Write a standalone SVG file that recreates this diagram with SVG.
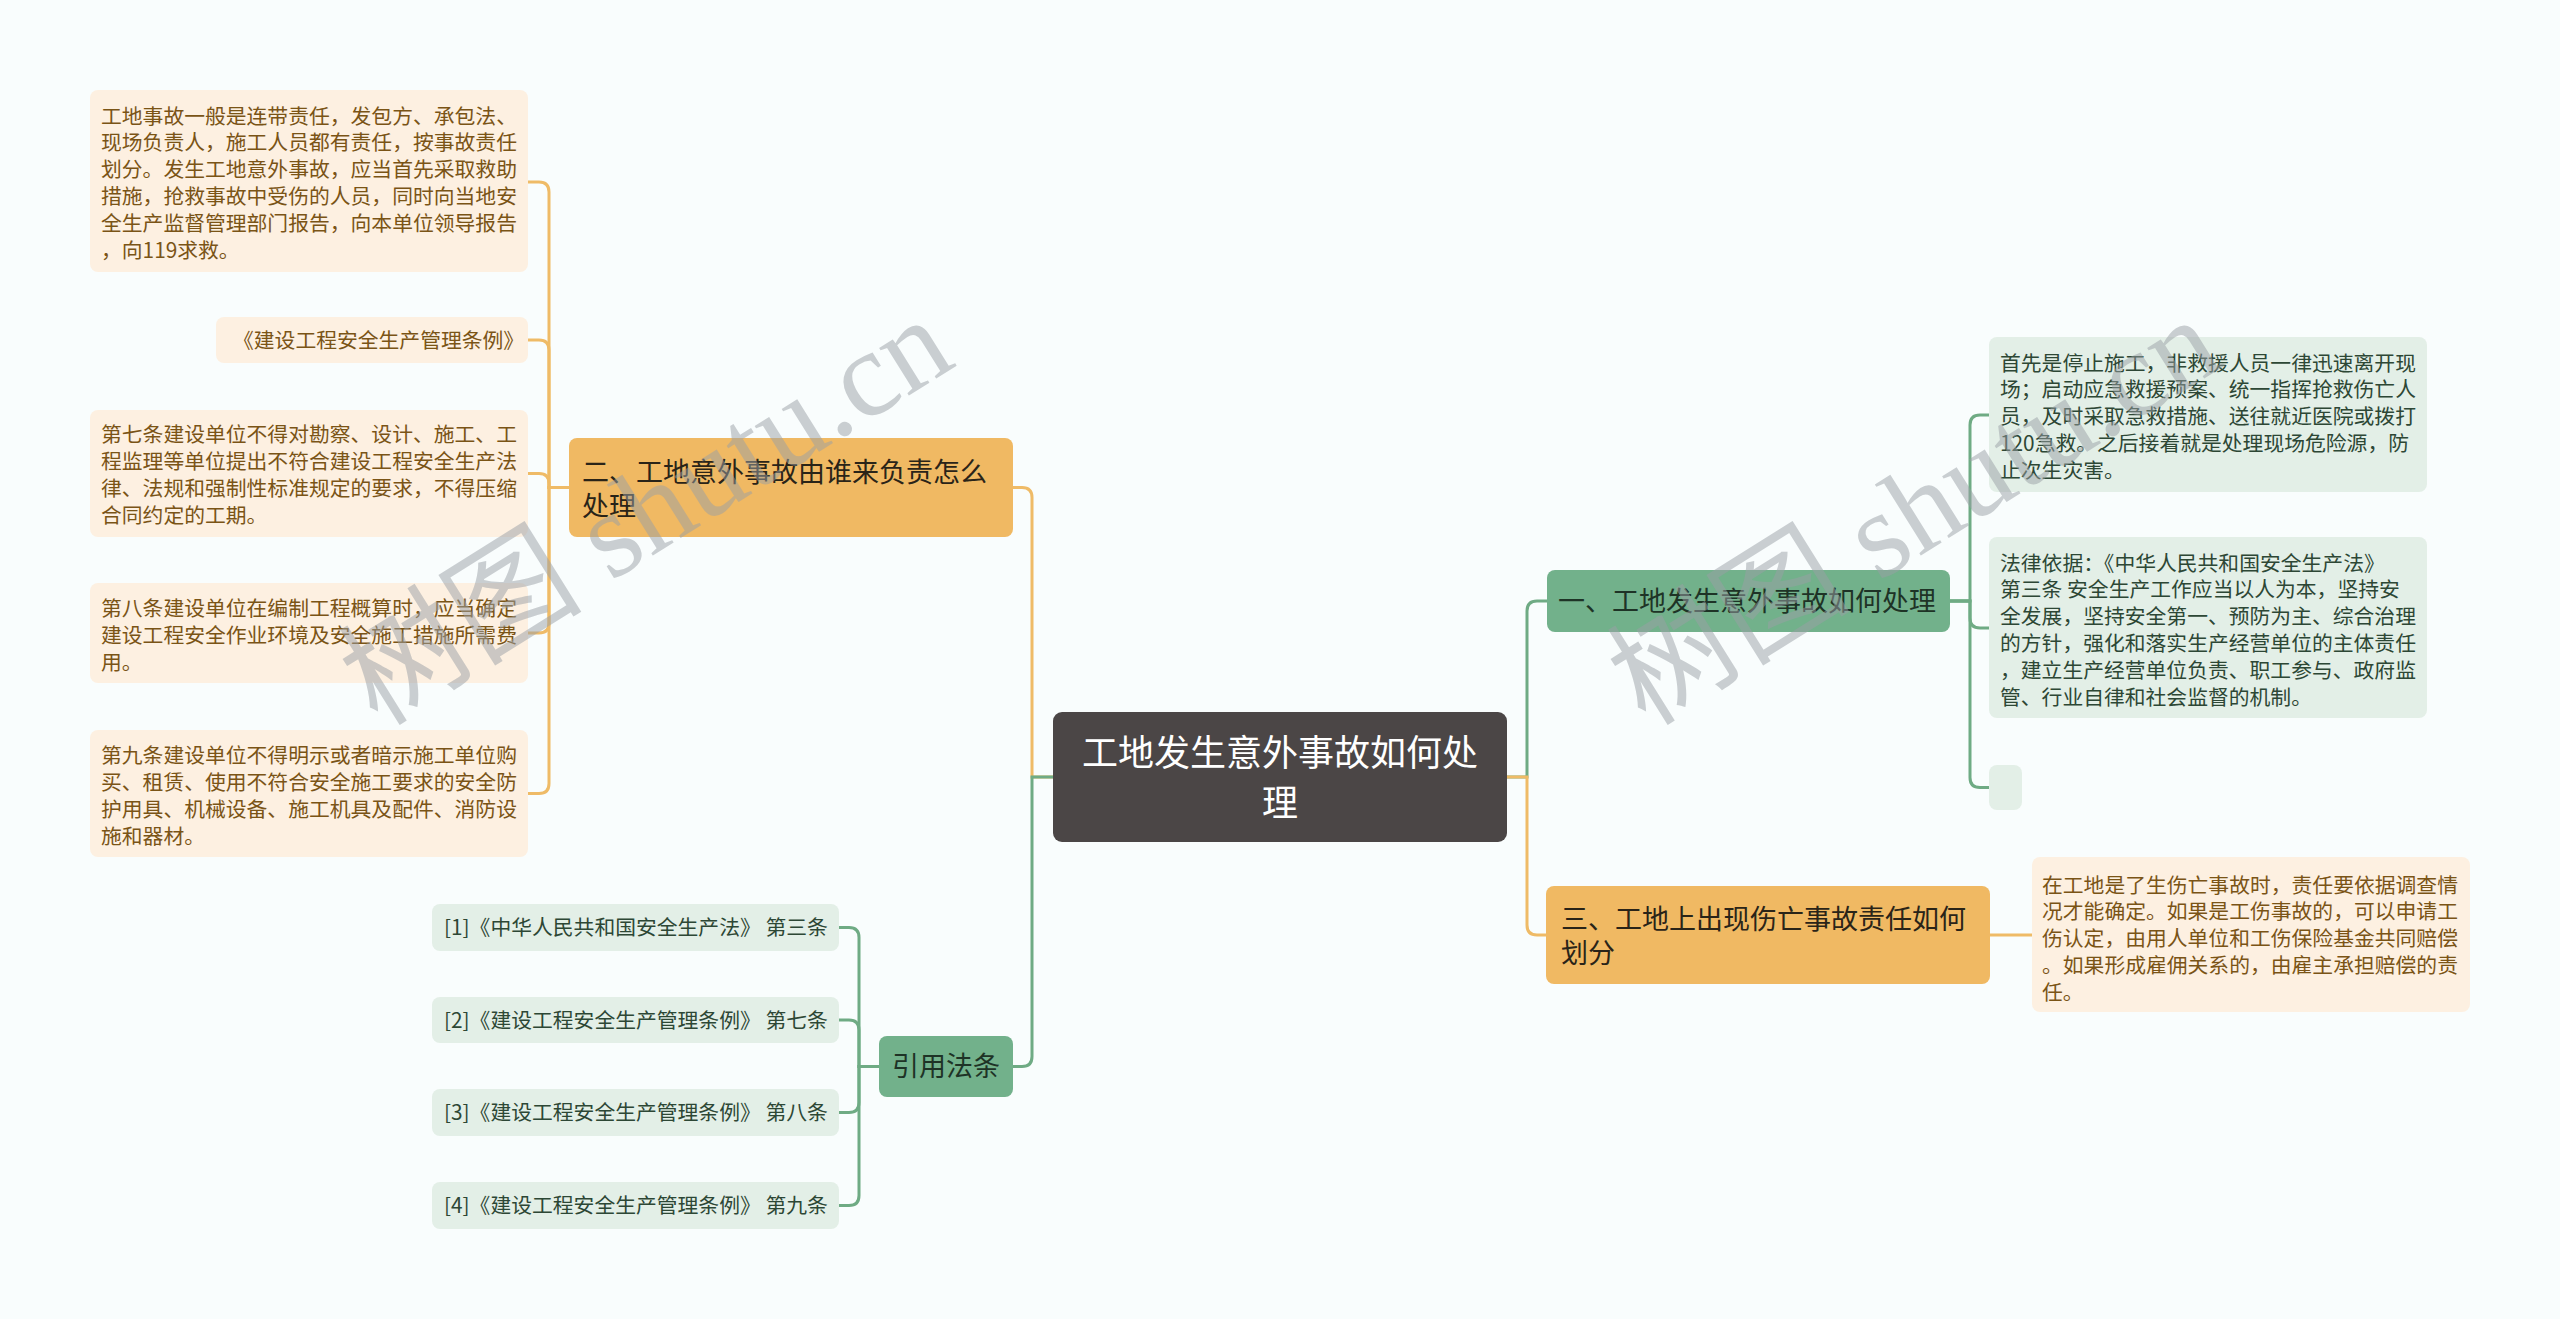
<svg xmlns="http://www.w3.org/2000/svg" width="2560" height="1319" viewBox="0 0 2560 1319">
<style>
text{font-family:"Noto Sans CJK SC","Noto Sans",sans-serif;}
.lo{fill:#fdf0e1;}
.lg{fill:#e3efe7;}
.mo{fill:#f0b963;}
.mg{fill:#72b18b;}
.root{fill:#4b4646;}
.to{font-size:20.8px;fill:#7a5416;}
.tg{font-size:20.8px;fill:#2d4735;}
.tmo{font-size:27px;fill:#2a2418;}
.tmg{font-size:27px;fill:#1e3326;}
.troot{font-size:36px;fill:#ffffff;}
.co{fill:none;stroke:#efbb67;stroke-width:3;}
.cg{fill:none;stroke:#6fab84;stroke-width:3;}
.wm{font-family:"Liberation Serif","Noto Sans CJK SC",serif;font-size:122px;fill:#9aa0a6;opacity:0.5;}
</style>
<rect x="0" y="0" width="2560" height="1319" fill="#f9fdfd"/>

<g id="connectors">
<path class="co" d="M569,487.5 H549 V192 Q549,182 539,182 H528"/>
<path class="co" d="M569,487.5 H549 V350 Q549,340 539,340 H528"/>
<path class="co" d="M569,487.5 H549 V483.5 Q549,473.5 539,473.5 H528"/>
<path class="co" d="M569,487.5 H549 V623 Q549,633 539,633 H528"/>
<path class="co" d="M569,487.5 H549 V783.5 Q549,793.5 539,793.5 H528"/>
<path class="co" d="M1053,777 H1032 V497.5 Q1032,487.5 1022,487.5 H1013"/>
<path class="cg" d="M1053,777 H1032 V1056.5 Q1032,1066.5 1022,1066.5 H1013"/>
<path class="cg" d="M1507,777 H1527 V611 Q1527,601 1537,601 H1547"/>
<path class="co" d="M1507,777 H1527 V925 Q1527,935 1537,935 H1546"/>
<path class="cg" d="M1950,601 H1970 V425 Q1970,415 1980,415 H1989"/>
<path class="cg" d="M1950,601 H1970 V618 Q1970,628 1980,628 H1989"/>
<path class="cg" d="M1950,601 H1970 V777.5 Q1970,787.5 1980,787.5 H1989"/>
<path class="co" d="M1990,935 H2032"/>
<path class="cg" d="M879,1066.5 H859 V937.5 Q859,927.5 849,927.5 H839"/>
<path class="cg" d="M879,1066.5 H859 V1030 Q859,1020 849,1020 H839"/>
<path class="cg" d="M879,1066.5 H859 V1102.5 Q859,1112.5 849,1112.5 H839"/>
<path class="cg" d="M879,1066.5 H859 V1195.5 Q859,1205.5 849,1205.5 H839"/>
</g>

<g id="root">
<rect class="root" x="1053" y="712" width="454" height="130" rx="9"/>
<text class="troot" text-anchor="middle"><tspan x="1280" y="766">工地发生意外事故如何处</tspan><tspan x="1280" y="816">理</tspan></text>
</g>

<g id="node-er">
<rect class="mo" x="569" y="438" width="444" height="99" rx="8"/>
<text class="tmo"><tspan x="582" y="481.7">二、工地意外事故由谁来负责怎么</tspan><tspan x="582" dy="34">处理</tspan></text>
</g>

<g id="leaf-l1">
<rect class="lo" x="90" y="90" width="438" height="182" rx="8"/>
<text class="to"><tspan x="101" y="123.5">工地事故一般是连带责任，发包方、承包法、</tspan><tspan x="101" dy="26.8">现场负责人，施工人员都有责任，按事故责任</tspan><tspan x="101" dy="26.8">划分。发生工地意外事故，应当首先采取救助</tspan><tspan x="101" dy="26.8">措施，抢救事故中受伤的人员，同时向当地安</tspan><tspan x="101" dy="26.8">全生产监督管理部门报告，向本单位领导报告</tspan><tspan x="101" dy="26.8">，向119求救。</tspan></text>
</g>

<g id="leaf-l2">
<rect class="lo" x="216" y="317" width="312" height="46" rx="8"/>
<text class="to" x="233" y="347.5">《建设工程安全生产管理条例》</text>
</g>

<g id="leaf-l3">
<rect class="lo" x="90" y="410" width="438" height="127" rx="8"/>
<text class="to"><tspan x="101" y="442">第七条建设单位不得对勘察、设计、施工、工</tspan><tspan x="101" dy="27">程监理等单位提出不符合建设工程安全生产法</tspan><tspan x="101" dy="27">律、法规和强制性标准规定的要求，不得压缩</tspan><tspan x="101" dy="27">合同约定的工期。</tspan></text>
</g>

<g id="leaf-l4">
<rect class="lo" x="90" y="583" width="438" height="100" rx="8"/>
<text class="to"><tspan x="101" y="615.5">第八条建设单位在编制工程概算时，应当确定</tspan><tspan x="101" dy="27">建设工程安全作业环境及安全施工措施所需费</tspan><tspan x="101" dy="27">用。</tspan></text>
</g>

<g id="leaf-l5">
<rect class="lo" x="90" y="730" width="438" height="127" rx="8"/>
<text class="to"><tspan x="101" y="762.5">第九条建设单位不得明示或者暗示施工单位购</tspan><tspan x="101" dy="27">买、租赁、使用不符合安全施工要求的安全防</tspan><tspan x="101" dy="27">护用具、机械设备、施工机具及配件、消防设</tspan><tspan x="101" dy="27">施和器材。</tspan></text>
</g>

<g id="node-yinyong">
<rect class="mg" x="879" y="1036" width="134" height="61" rx="8"/>
<text class="tmg" x="946" y="1076.2" text-anchor="middle">引用法条</text>
</g>

<g id="ref-1">
<rect class="lg" x="432" y="904" width="407" height="47" rx="8"/>
<text class="tg" x="444" y="935">[1]《中华人民共和国安全生产法》 第三条</text>
</g>
<g id="ref-2">
<rect class="lg" x="432" y="997" width="407" height="46" rx="8"/>
<text class="tg" x="444" y="1027.5">[2]《建设工程安全生产管理条例》 第七条</text>
</g>
<g id="ref-3">
<rect class="lg" x="432" y="1089" width="407" height="47" rx="8"/>
<text class="tg" x="444" y="1120">[3]《建设工程安全生产管理条例》 第八条</text>
</g>
<g id="ref-4">
<rect class="lg" x="432" y="1182" width="407" height="47" rx="8"/>
<text class="tg" x="444" y="1213">[4]《建设工程安全生产管理条例》 第九条</text>
</g>

<g id="node-yi">
<rect class="mg" x="1547" y="570" width="403" height="62" rx="8"/>
<text class="tmg" x="1558" y="610.7">一、工地发生意外事故如何处理</text>
</g>

<g id="leaf-r1">
<rect class="lg" x="1989" y="337" width="438" height="155" rx="8"/>
<text class="tg"><tspan x="2000" y="370.5">首先是停止施工，非救援人员一律迅速离开现</tspan><tspan x="2000" dy="26.8">场；启动应急救援预案、统一指挥抢救伤亡人</tspan><tspan x="2000" dy="26.8">员，及时采取急救措施、送往就近医院或拨打</tspan><tspan x="2000" dy="26.8">120急救。之后接着就是处理现场危险源，防</tspan><tspan x="2000" dy="26.8">止次生灾害。</tspan></text>
</g>

<g id="leaf-r2">
<rect class="lg" x="1989" y="537" width="438" height="181" rx="8"/>
<text class="tg"><tspan x="2000" y="570.5">法律依据：《中华人民共和国安全生产法》</tspan><tspan x="2000" dy="26.8">第三条 安全生产工作应当以人为本，坚持安</tspan><tspan x="2000" dy="26.8">全发展，坚持安全第一、预防为主、综合治理</tspan><tspan x="2000" dy="26.8">的方针，强化和落实生产经营单位的主体责任</tspan><tspan x="2000" dy="26.8">，建立生产经营单位负责、职工参与、政府监</tspan><tspan x="2000" dy="26.8">管、行业自律和社会监督的机制。</tspan></text>
</g>

<g id="leaf-r3">
<rect class="lg" x="1989" y="765" width="33" height="45" rx="8"/>
</g>

<g id="node-san">
<rect class="mo" x="1546" y="886" width="444" height="98" rx="8"/>
<text class="tmo"><tspan x="1561" y="928.7">三、工地上出现伤亡事故责任如何</tspan><tspan x="1561" dy="34">划分</tspan></text>
</g>

<g id="leaf-r4">
<rect class="lo" x="2032" y="857" width="438" height="155" rx="8"/>
<text class="to"><tspan x="2042" y="892.5">在工地是了生伤亡事故时，责任要依据调查情</tspan><tspan x="2042" dy="26.8">况才能确定。如果是工伤事故的，可以申请工</tspan><tspan x="2042" dy="26.8">伤认定，由用人单位和工伤保险基金共同赔偿</tspan><tspan x="2042" dy="26.8">。如果形成雇佣关系的，由雇主承担赔偿的责</tspan><tspan x="2042" dy="26.8">任。</tspan></text>
</g>

<g id="watermarks">
<text class="wm" x="668" y="546" text-anchor="middle" transform="rotate(-32 668 546)">树图 shutu.cn</text>
<text class="wm" x="1936" y="546" text-anchor="middle" transform="rotate(-32 1936 546)">树图 shutu.cn</text>
</g>
</svg>
